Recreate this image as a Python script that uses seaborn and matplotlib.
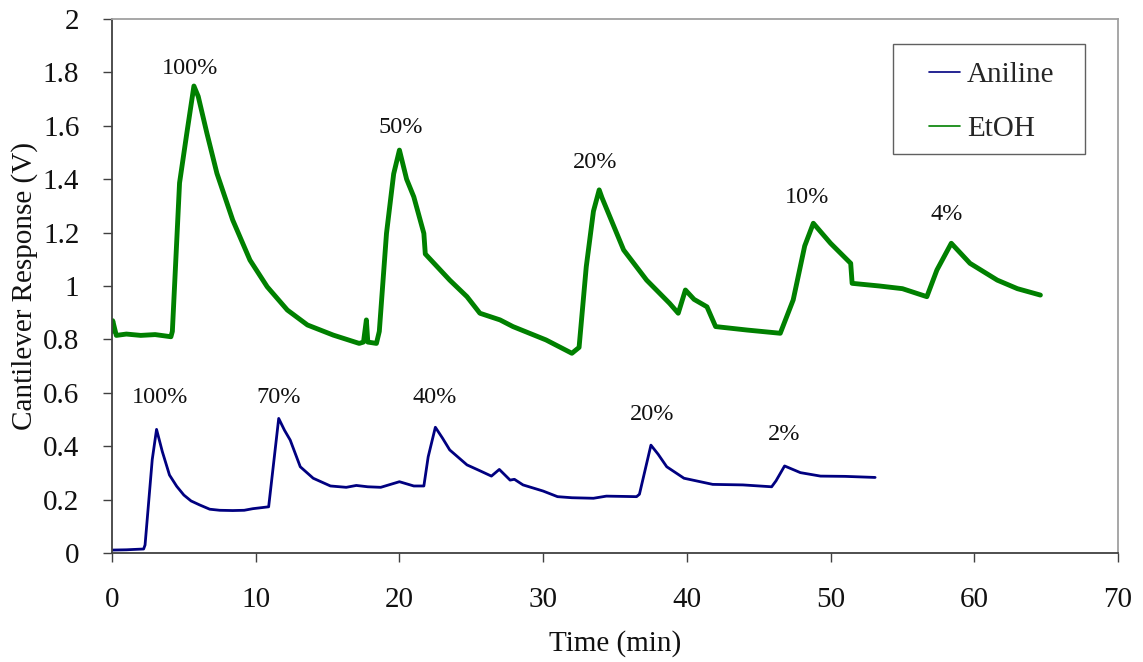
import matplotlib
matplotlib.use("Agg")
import matplotlib.pyplot as plt
from matplotlib.patches import Rectangle
import seaborn as sns
import pandas as pd

# Aniline trace (time in min, response in V)
aniline_t = [0.0, 1.0, 2.2, 2.3, 2.8, 3.1, 3.5, 4.0, 4.5, 5.0, 5.5, 6.1, 6.8, 7.5, 8.4, 9.2,
             9.8, 10.9, 11.0, 11.6, 12.0, 12.4, 13.1, 14.0, 15.2, 16.3, 17.0, 17.8, 18.7,
             20.0, 21.0, 21.7, 22.0, 22.5, 23.0, 23.5, 24.7, 25.6, 26.4, 26.95, 27.7,
             28.0, 28.6, 30.0, 31.0, 32.0, 33.5, 34.4, 35.5, 36.5, 36.7, 37.5, 38.0,
             38.6, 39.8, 41.8, 43.9, 45.9, 46.2, 46.8, 47.9, 49.3, 51.0, 53.1]
aniline_v = [0.011, 0.012, 0.015, 0.03, 0.35, 0.463, 0.38, 0.292, 0.25, 0.217, 0.195, 0.18,
             0.164, 0.16, 0.159, 0.16, 0.166, 0.173, 0.22, 0.504, 0.46, 0.423, 0.323, 0.28,
             0.251, 0.246, 0.253, 0.248, 0.246, 0.267, 0.251, 0.251, 0.36, 0.471, 0.43,
             0.386, 0.33, 0.308, 0.288, 0.313, 0.273, 0.276, 0.255, 0.232, 0.211, 0.207,
             0.205, 0.213, 0.212, 0.211, 0.22, 0.404, 0.37, 0.323, 0.28, 0.257, 0.255,
             0.248, 0.27, 0.326, 0.301, 0.288, 0.287, 0.283]

# EtOH trace (time in min, response in V)
etoh_t = [0.0, 0.05, 0.3, 1.0, 2.0, 3.0, 4.1, 4.2, 4.7, 5.2, 5.7, 6.0, 6.6, 7.3, 8.4, 9.6,
          10.8, 12.2, 13.6, 15.4, 17.2, 17.5, 17.7, 17.8, 18.4, 18.6, 19.1, 19.6, 20.0,
          20.5, 21.0, 21.7, 21.8, 23.5, 24.7, 25.6, 27.0, 27.9, 30.2, 32.0, 32.5, 33.0,
          33.5, 33.9, 34.1, 35.6, 37.2, 38.8, 39.4, 39.9, 40.5, 41.4, 42.0, 44.2, 46.5,
          47.4, 48.2, 48.8, 50.0, 51.4, 51.5, 53.4, 55.0, 56.7, 57.4, 58.4, 59.7, 61.6,
          63.0, 64.6]
etoh_v = [0.83, 0.87, 0.815, 0.82, 0.815, 0.818, 0.81, 0.83, 1.386, 1.57, 1.749, 1.71,
          1.573, 1.422, 1.247, 1.097, 0.997, 0.91, 0.854, 0.816, 0.785, 0.79, 0.873, 0.79,
          0.785, 0.83, 1.197, 1.42, 1.509, 1.40, 1.334, 1.197, 1.12, 1.022, 0.96, 0.898,
          0.873, 0.848, 0.798, 0.748, 0.77, 1.072, 1.28, 1.36, 1.33, 1.135, 1.022, 0.935,
          0.898, 0.985, 0.95, 0.922, 0.848, 0.835, 0.823, 0.948, 1.15, 1.235, 1.16, 1.085,
          1.01, 1.0, 0.99, 0.96, 1.06, 1.16, 1.085, 1.022, 0.99, 0.966]

# Concentration labels (centre positions in data units)
etoh_lbl = ["100%", "50%", "20%", "10%", "4%"]
etoh_lbl_x = [5.43, 20.08, 33.6, 48.37, 58.07]
etoh_lbl_y = [1.816, 1.595, 1.464, 1.333, 1.266]
ani_lbl = ["100%", "70%", "40%", "20%", "2%"]
ani_lbl_x = [3.34, 11.59, 22.44, 37.58, 46.76]
ani_lbl_y = [0.584, 0.584, 0.584, 0.517, 0.442]

x_ticks = [0, 10, 20, 30, 40, 50, 60, 70]
y_ticks = [0, 0.2, 0.4, 0.6, 0.8, 1.0, 1.2, 1.4, 1.6, 1.8, 2.0]
y_tick_labels = ["0", "0.2", "0.4", "0.6", "0.8", "1", "1.2", "1.4", "1.6", "1.8", "2"]

sns.set_style("white")
plt.rcParams['font.family'] = ['Liberation Serif', 'DejaVu Serif']

df = pd.concat([
    pd.DataFrame({"t": aniline_t, "v": aniline_v, "s": "Aniline"}),
    pd.DataFrame({"t": etoh_t, "v": etoh_v, "s": "EtOH"}),
])

W, H = 1143, 662
fig = plt.figure(figsize=(W / 100, H / 100), dpi=100)
ax = fig.add_axes([112 / W, 1 - 553 / H, (1118 - 112) / W, (553 - 19) / H])

sns.lineplot(data=df[df.s == "Aniline"], x="t", y="v", ax=ax, color="#000080",
             linewidth=2.0, label="Aniline", sort=False, estimator=None)
sns.lineplot(data=df[df.s == "EtOH"], x="t", y="v", ax=ax, color="#008000",
             linewidth=3.5, label="EtOH", sort=False, estimator=None)

for lbl, x, y in zip(etoh_lbl + ani_lbl, etoh_lbl_x + ani_lbl_x, etoh_lbl_y + ani_lbl_y):
    ax.text(x, y, lbl, ha="center", va="center", fontsize=17.5, color="#111111")

ax.set_xlim(0, 70)
ax.set_ylim(0, 2)
ax.set_xticks(x_ticks)
ax.set_xticklabels([str(v) for v in x_ticks])
ax.set_yticks(y_ticks)
ax.set_yticklabels(y_tick_labels)
ax.tick_params(axis="both", direction="out", length=6.5, width=1, labelsize=21,
               color="#404040", left=True, bottom=True, labelcolor="#111111")
ax.tick_params(axis="x", pad=18)
ax.tick_params(axis="y", pad=17)
ax.set_xlabel("Time (min)", fontsize=21, labelpad=12, color="#111111")
ax.set_ylabel("Cantilever Response (V)", fontsize=21, labelpad=3.5, color="#111111")

for side in ["left", "bottom"]:
    ax.spines[side].set_color("#404040")
    ax.spines[side].set_linewidth(1.3)
for side in ["top", "right"]:
    ax.spines[side].set_color("#a0a0a0")
    ax.spines[side].set_linewidth(1.3)
    ax.spines[side].set_visible(True)

# legend box (Excel style, drawn as a frame in axes coordinates)
bx0, bx1 = (893 - 112) / 1006, (1085 - 112) / 1006
by0, by1 = (553 - 154) / 534, (553 - 44) / 534
ax.add_patch(Rectangle((bx0, by0), bx1 - bx0, by1 - by0, transform=ax.transAxes,
                       facecolor="white", edgecolor="#606060", linewidth=1.0, zorder=4))
leg = ax.legend(loc="upper left", bbox_to_anchor=((929 - 112) / 1006, (553 - 62) / 534),
                fontsize=21, frameon=False, handlelength=1.06, labelspacing=0.93,
                borderpad=0, handletextpad=0.25, borderaxespad=0)
leg.set_zorder(5)
for h in leg.get_lines():
    h.set_linewidth(1.2)

fig.savefig("out.png", dpi=100)
